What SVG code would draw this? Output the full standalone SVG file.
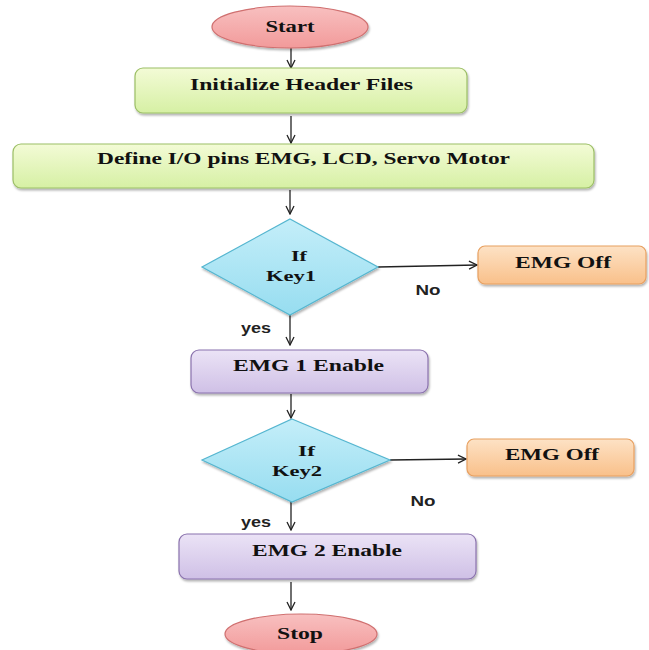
<svg xmlns="http://www.w3.org/2000/svg" width="649" height="650" viewBox="0 0 649 650">
<defs>
<linearGradient id="gPink" x1="0" y1="0" x2="0" y2="1"><stop offset="0" stop-color="#f8c0c0"/><stop offset="1" stop-color="#f29a9a"/></linearGradient>
<linearGradient id="gGreen" x1="0" y1="0" x2="0" y2="1"><stop offset="0" stop-color="#f3fbd6"/><stop offset="1" stop-color="#d6f0a4"/></linearGradient>
<linearGradient id="gCyan" x1="0" y1="0" x2="0" y2="1"><stop offset="0" stop-color="#c4eef9"/><stop offset="1" stop-color="#97ddf0"/></linearGradient>
<linearGradient id="gOrange" x1="0" y1="0" x2="0" y2="1"><stop offset="0" stop-color="#fde2c5"/><stop offset="1" stop-color="#f9c08a"/></linearGradient>
<linearGradient id="gPurple" x1="0" y1="0" x2="0" y2="1"><stop offset="0" stop-color="#ebe3f6"/><stop offset="1" stop-color="#cfc0e6"/></linearGradient>
<marker id="arr" viewBox="0 0 10 10" refX="9" refY="5" markerWidth="10" markerHeight="10" markerUnits="userSpaceOnUse" orient="auto"><path d="M1,1 L9,5 L1,9" fill="none" stroke="#222" stroke-width="1.3"/></marker>
<filter id="sh" x="-5%" y="-10%" width="110%" height="130%"><feDropShadow dx="1" dy="2" stdDeviation="1.2" flood-color="#000" flood-opacity="0.3"/></filter>
</defs>
<style>
.t{font-family:"Liberation Serif","Times New Roman",serif;font-weight:bold;font-size:17px;fill:#111;text-anchor:middle}
.d{font-size:15.5px}
.l{font-family:"Liberation Sans",Arial,sans-serif;font-weight:bold;font-size:15px;fill:#222;text-anchor:middle}
.c{stroke:#222;stroke-width:1.3;fill:none;marker-end:url(#arr)}
.pink{fill:url(#gPink);stroke:#d07070;stroke-width:1.2}
.green{fill:url(#gGreen);stroke:#9cbf66;stroke-width:1.2}
.cyan{fill:url(#gCyan);stroke:#55b6d0;stroke-width:1.2}
.orange{fill:url(#gOrange);stroke:#e8a060;stroke-width:1.2}
.purple{fill:url(#gPurple);stroke:#8a72ad;stroke-width:1.2}
</style>
<rect width="649" height="650" fill="#fff"/>
<g id="connectors">
<line class="c" x1="291" y1="48" x2="291" y2="68"/>
<line class="c" x1="291" y1="116" x2="291" y2="143"/>
<line class="c" x1="290" y1="190" x2="290" y2="214"/>
<line class="c" x1="378" y1="267" x2="477" y2="265"/>
<line class="c" x1="290" y1="315" x2="290" y2="345"/>
<line class="c" x1="291" y1="394" x2="291" y2="418"/>
<line class="c" x1="390" y1="460" x2="466" y2="459"/>
<line class="c" x1="291" y1="502" x2="291" y2="530"/>
<line class="c" x1="291" y1="582" x2="291" y2="610"/>
<text class="l" x="428" y="295" textLength="25" lengthAdjust="spacingAndGlyphs">No</text>
<text class="l" x="256" y="333" textLength="30" lengthAdjust="spacingAndGlyphs">yes</text>
<text class="l" x="423" y="506" textLength="25" lengthAdjust="spacingAndGlyphs">No</text>
<text class="l" x="256" y="527" textLength="30" lengthAdjust="spacingAndGlyphs">yes</text>
</g>
<g id="start"><ellipse class="pink" cx="290" cy="27" rx="78" ry="21" filter="url(#sh)"/><text class="t" x="290" y="32" textLength="49" lengthAdjust="spacingAndGlyphs">Start</text></g>
<g id="init"><rect class="green" x="135" y="68" width="332" height="45" rx="8" filter="url(#sh)"/><text class="t" x="301.5" y="90" textLength="223" lengthAdjust="spacingAndGlyphs">Initialize Header Files</text></g>
<g id="define"><rect class="green" x="13" y="144" width="581" height="44" rx="8" filter="url(#sh)"/><text class="t" x="303.5" y="164" textLength="413" lengthAdjust="spacingAndGlyphs">Define I/O pins EMG, LCD, Servo Motor</text></g>
<g id="key1"><polygon class="cyan" points="290,219 378,267 290,315 202,267" filter="url(#sh)"/><text class="t d" x="299" y="261" textLength="16" lengthAdjust="spacingAndGlyphs">If</text><text class="t d" x="291" y="281" textLength="50" lengthAdjust="spacingAndGlyphs">Key1</text></g>
<g id="off1"><rect class="orange" x="478" y="246" width="168" height="38" rx="7" filter="url(#sh)"/><text class="t" x="563" y="268" textLength="96" lengthAdjust="spacingAndGlyphs">EMG Off</text></g>
<g id="emg1"><rect class="purple" x="191" y="350" width="237" height="43" rx="8" filter="url(#sh)"/><text class="t" x="308.5" y="371" textLength="151" lengthAdjust="spacingAndGlyphs">EMG 1 Enable</text></g>
<g id="key2"><polygon class="cyan" points="292,419 390,460 292,502 202,460" filter="url(#sh)"/><text class="t d" x="306.5" y="456" textLength="17" lengthAdjust="spacingAndGlyphs">If</text><text class="t d" x="297" y="476" textLength="50" lengthAdjust="spacingAndGlyphs">Key2</text></g>
<g id="off2"><rect class="orange" x="467" y="439" width="167" height="37" rx="7" filter="url(#sh)"/><text class="t" x="552" y="460" textLength="94" lengthAdjust="spacingAndGlyphs">EMG Off</text></g>
<g id="emg2"><rect class="purple" x="179" y="534" width="297" height="45" rx="8" filter="url(#sh)"/><text class="t" x="327" y="556" textLength="150" lengthAdjust="spacingAndGlyphs">EMG 2 Enable</text></g>
<g id="stop"><ellipse class="pink" cx="301" cy="634" rx="76" ry="20" filter="url(#sh)"/><text class="t" x="300" y="639" textLength="46" lengthAdjust="spacingAndGlyphs">Stop</text></g>
</svg>
